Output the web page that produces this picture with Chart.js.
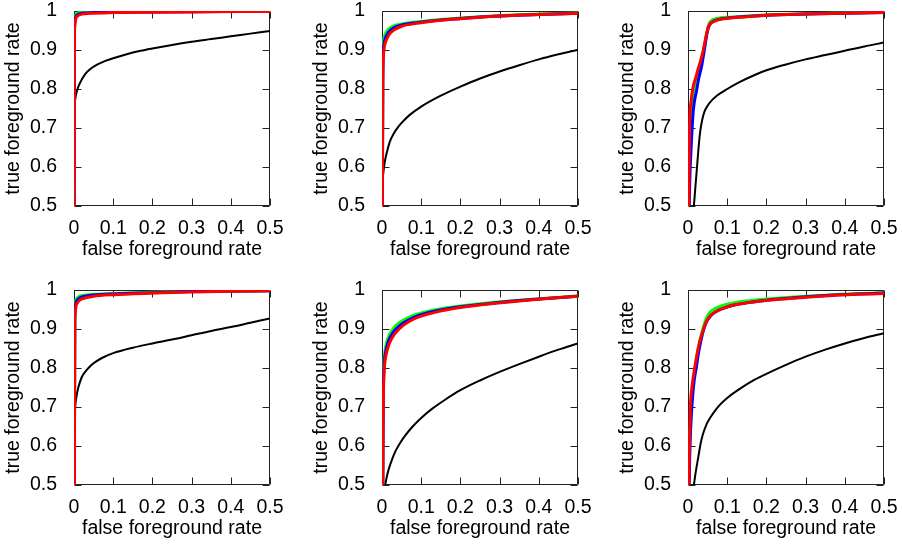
<!DOCTYPE html>
<html>
<head>
<meta charset="utf-8">
<script src="https://cdn.jsdelivr.net/npm/chart.js@4.4.0/dist/chart.umd.min.js"></script>
<style>
	html, body { margin: 0; padding: 0; background: #fff; }
	body { width: 902px; height: 545px; position: relative; overflow: hidden; }
	canvas { position: absolute; }
</style>
</head>
<body>
<canvas id="cA"></canvas>
<canvas id="cB"></canvas>
<canvas id="cC"></canvas>
<canvas id="cD"></canvas>
<canvas id="cE"></canvas>
<canvas id="cF"></canvas>
<script>
// axis ticks
var fprTicks = [0, 0.1, 0.2, 0.3, 0.4, 0.5];
var tprTicks = [0.5, 0.6, 0.7, 0.8, 0.9, 1];

// [false foreground rate, true foreground rate]
// top left
var baseA = [[0,0.5],[0.0005,0.73],[0.002,0.765],[0.004,0.78],[0.01,0.803],[0.017,0.819],[0.03,0.84],[0.04,0.85],[0.06,0.863],[0.08,0.872],[0.1,0.879],[0.13,0.888],[0.17,0.898],[0.2,0.904],[0.25,0.913],[0.3,0.921],[0.35,0.928],[0.4,0.935],[0.45,0.942],[0.5,0.949]];
var greenA = [[0.0005,0.5],[0.001,0.95],[0.002,0.98],[0.004,0.99],[0.008,0.994],[0.015,0.996],[0.03,0.998],[0.1,0.999],[0.5,1]];
var blueA = [[0.0005,0.5],[0.001,0.93],[0.002,0.97],[0.004,0.984],[0.008,0.99],[0.015,0.993],[0.03,0.995],[0.1,0.997],[0.5,0.999]];
var redA = [[0.0005,0.5],[0.001,0.9],[0.002,0.96],[0.004,0.978],[0.007,0.985],[0.012,0.989],[0.02,0.992],[0.04,0.994],[0.1,0.996],[0.2,0.997],[0.35,0.998],[0.5,0.999]];

// top middle
var baseB = [[0,0.5],[0.001,0.55],[0.004,0.59],[0.008,0.618],[0.013,0.64],[0.02,0.665],[0.03,0.686],[0.04,0.701],[0.05,0.713],[0.07,0.733],[0.1,0.755],[0.15,0.783],[0.2,0.806],[0.25,0.827],[0.3,0.845],[0.35,0.861],[0.4,0.876],[0.45,0.889],[0.5,0.901]];
var greenB = [[0.001,0.5],[0.002,0.85],[0.003,0.91],[0.005,0.93],[0.008,0.94],[0.012,0.948],[0.02,0.956],[0.03,0.962],[0.05,0.967],[0.08,0.971],[0.1,0.973],[0.15,0.978],[0.2,0.982],[0.3,0.988],[0.4,0.992],[0.5,0.995]];
var blueB = [[0.001,0.5],[0.002,0.82],[0.003,0.89],[0.005,0.915],[0.008,0.929],[0.012,0.938],[0.02,0.949],[0.03,0.957],[0.05,0.964],[0.08,0.969],[0.1,0.972],[0.15,0.977],[0.2,0.981],[0.3,0.987],[0.4,0.991],[0.5,0.994]];
var redB = [[0.001,0.5],[0.002,0.8],[0.003,0.87],[0.005,0.9],[0.008,0.917],[0.012,0.928],[0.02,0.942],[0.03,0.951],[0.05,0.961],[0.08,0.967],[0.1,0.97],[0.15,0.976],[0.2,0.98],[0.3,0.987],[0.4,0.991],[0.5,0.994]];

// top right
var baseC = [[0.015,0.5],[0.019,0.55],[0.023,0.6],[0.027,0.65],[0.031,0.69],[0.036,0.72],[0.042,0.742],[0.05,0.757],[0.06,0.77],[0.075,0.784],[0.1,0.8],[0.13,0.817],[0.17,0.836],[0.2,0.848],[0.25,0.863],[0.3,0.876],[0.35,0.887],[0.4,0.898],[0.45,0.909],[0.5,0.919]];
var greenC = [[0.002,0.5],[0.004,0.6],[0.007,0.7],[0.011,0.77],[0.016,0.805],[0.022,0.83],[0.028,0.853],[0.034,0.876],[0.04,0.9],[0.045,0.927],[0.049,0.948],[0.053,0.965],[0.058,0.974],[0.066,0.979],[0.08,0.982],[0.1,0.984],[0.15,0.987],[0.2,0.99],[0.3,0.993],[0.4,0.995],[0.5,0.997]];
var blueC = [[0.003,0.5],[0.005,0.58],[0.008,0.65],[0.0135,0.745],[0.022,0.797],[0.028,0.83],[0.035,0.86],[0.04,0.89],[0.044,0.915],[0.048,0.94],[0.052,0.957],[0.057,0.967],[0.065,0.974],[0.08,0.979],[0.1,0.982],[0.15,0.986],[0.2,0.989],[0.3,0.992],[0.4,0.994],[0.5,0.996]];
var redC = [[0.002,0.5],[0.003,0.6],[0.004,0.7],[0.008,0.77],[0.013,0.805],[0.02,0.83],[0.026,0.852],[0.033,0.875],[0.039,0.9],[0.044,0.925],[0.048,0.945],[0.052,0.96],[0.057,0.968],[0.065,0.973],[0.08,0.978],[0.1,0.981],[0.15,0.985],[0.2,0.989],[0.3,0.992],[0.4,0.994],[0.5,0.996]];

// bottom left
var baseD = [[0,0.5],[0.001,0.65],[0.003,0.7],[0.006,0.725],[0.011,0.75],[0.02,0.777],[0.03,0.792],[0.04,0.803],[0.05,0.812],[0.07,0.825],[0.1,0.838],[0.15,0.852],[0.2,0.863],[0.25,0.873],[0.3,0.884],[0.35,0.895],[0.4,0.905],[0.45,0.916],[0.5,0.927]];
var greenD = [[0.001,0.5],[0.002,0.94],[0.003,0.965],[0.005,0.975],[0.008,0.98],[0.012,0.983],[0.02,0.986],[0.05,0.989],[0.1,0.991],[0.2,0.994],[0.3,0.996],[0.5,0.998]];
var blueD = [[0.001,0.5],[0.002,0.92],[0.003,0.955],[0.005,0.968],[0.008,0.974],[0.012,0.978],[0.02,0.982],[0.05,0.987],[0.1,0.99],[0.2,0.993],[0.3,0.996],[0.5,0.998]];
var redD = [[0.001,0.5],[0.002,0.9],[0.003,0.94],[0.005,0.958],[0.008,0.966],[0.012,0.972],[0.02,0.977],[0.03,0.98],[0.05,0.984],[0.1,0.988],[0.2,0.992],[0.3,0.995],[0.4,0.997],[0.5,0.998]];

// bottom middle
var baseE = [[0.008,0.5],[0.012,0.52],[0.017,0.54],[0.025,0.564],[0.035,0.588],[0.045,0.606],[0.06,0.628],[0.08,0.652],[0.1,0.672],[0.13,0.697],[0.16,0.718],[0.2,0.743],[0.25,0.768],[0.3,0.79],[0.35,0.81],[0.4,0.829],[0.45,0.847],[0.5,0.863]];
var greenE = [[0.002,0.5],[0.003,0.72],[0.004,0.79],[0.006,0.83],[0.01,0.858],[0.015,0.876],[0.02,0.888],[0.03,0.903],[0.04,0.913],[0.055,0.923],[0.08,0.935],[0.1,0.941],[0.14,0.95],[0.2,0.959],[0.27,0.967],[0.35,0.974],[0.42,0.979],[0.5,0.985]];
var blueE = [[0.002,0.5],[0.003,0.7],[0.004,0.77],[0.006,0.815],[0.01,0.845],[0.015,0.864],[0.02,0.877],[0.03,0.893],[0.04,0.904],[0.055,0.916],[0.08,0.929],[0.1,0.937],[0.14,0.947],[0.2,0.957],[0.27,0.965],[0.35,0.973],[0.42,0.978],[0.5,0.984]];
var redE = [[0.002,0.5],[0.003,0.68],[0.004,0.75],[0.006,0.8],[0.01,0.832],[0.015,0.852],[0.02,0.866],[0.03,0.884],[0.04,0.896],[0.055,0.91],[0.08,0.925],[0.1,0.933],[0.14,0.944],[0.2,0.955],[0.27,0.964],[0.35,0.972],[0.42,0.978],[0.5,0.984]];

// bottom right
var baseF = [[0.015,0.5],[0.02,0.535],[0.026,0.57],[0.032,0.605],[0.038,0.63],[0.047,0.655],[0.055,0.67],[0.065,0.685],[0.08,0.704],[0.1,0.723],[0.13,0.745],[0.17,0.77],[0.2,0.785],[0.25,0.808],[0.3,0.829],[0.35,0.847],[0.4,0.863],[0.45,0.877],[0.5,0.889]];
var greenF = [[0.002,0.5],[0.005,0.62],[0.008,0.7],[0.013,0.76],[0.02,0.81],[0.026,0.85],[0.032,0.877],[0.039,0.905],[0.047,0.928],[0.057,0.944],[0.07,0.953],[0.09,0.961],[0.115,0.967],[0.15,0.972],[0.2,0.977],[0.27,0.982],[0.37,0.988],[0.5,0.993]];
var blueF = [[0.003,0.5],[0.005,0.6],[0.008,0.67],[0.012,0.73],[0.016,0.77],[0.021,0.8],[0.027,0.84],[0.033,0.87],[0.039,0.895],[0.047,0.918],[0.058,0.934],[0.072,0.945],[0.09,0.953],[0.115,0.961],[0.15,0.967],[0.2,0.974],[0.27,0.98],[0.37,0.987],[0.5,0.992]];
var redF = [[0.002,0.5],[0.004,0.62],[0.006,0.7],[0.01,0.75],[0.017,0.8],[0.024,0.84],[0.03,0.868],[0.038,0.895],[0.047,0.919],[0.058,0.935],[0.072,0.945],[0.09,0.953],[0.115,0.961],[0.15,0.967],[0.2,0.973],[0.27,0.979],[0.37,0.986],[0.5,0.991]];

// base, green, blue, red (red ends up on top)
var seriesColors = ['#000000', '#00ff00', '#0000ff', '#ff0000'];
var seriesWidths = [2, 3, 3, 3];

// plot box layout (px)
var plotW = 196, plotH = 195;
var padL = 74, padT = 11, padR = 18, padB = 60;

var panels = [
	{ id: 'cA', left: 74, top: 11, curves: [baseA, greenA, blueA, redA] },
	{ id: 'cB', left: 382, top: 11, curves: [baseB, greenB, blueB, redB] },
	{ id: 'cC', left: 688, top: 11, curves: [baseC, greenC, blueC, redC] },
	{ id: 'cD', left: 74, top: 290, curves: [baseD, greenD, blueD, redD] },
	{ id: 'cE', left: 382, top: 290, curves: [baseE, greenE, blueE, redE] },
	{ id: 'cF', left: 688, top: 290, curves: [baseF, greenF, blueF, redF] }
];

var axisFont = { family: "'Liberation Sans', Arial, sans-serif", size: 19.5 };

// gnuplot style box with inward ticks on all four sides
var frame = {
	id: 'frame',
	beforeDatasetsDraw: function(chart) {
		var ctx = chart.ctx, a = chart.chartArea;
		var xs = chart.scales.x, ys = chart.scales.y;
		var L = Math.round(a.left) + 0.5, R = Math.round(a.right) - 0.5;
		var T = Math.round(a.top) + 0.5, B = Math.round(a.bottom) - 0.5;
		var len = 7;
		ctx.save();
		ctx.strokeStyle = '#222';
		ctx.lineWidth = 1;
		ctx.beginPath();
		fprTicks.forEach(function(v) {
			var px = Math.round(xs.getPixelForValue(v)) + 0.5;
			ctx.moveTo(px, B); ctx.lineTo(px, B - len);
			ctx.moveTo(px, T); ctx.lineTo(px, T + len);
		});
		tprTicks.forEach(function(v) {
			var py = Math.round(ys.getPixelForValue(v)) + 0.5;
			ctx.moveTo(L, py); ctx.lineTo(L + len, py);
			ctx.moveTo(R, py); ctx.lineTo(R - len, py);
		});
		ctx.rect(L, T, R - L, B - T);
		ctx.stroke();
		ctx.restore();
	}
};

panels.forEach(function(p) {
	var canvas = document.getElementById(p.id);
	canvas.width = padL + plotW + padR;
	canvas.height = padT + plotH + padB;
	canvas.style.left = (p.left - padL) + 'px';
	canvas.style.top = (p.top - padT) + 'px';

	var datasets = p.curves.map(function(c, i) {
		return {
			data: c.map(function(pt) { return { x: pt[0], y: pt[1] }; }),
			borderColor: seriesColors[i],
			borderWidth: seriesWidths[i],
			order: p.curves.length - i,
			showLine: true,
			pointRadius: 0,
			cubicInterpolationMode: 'monotone',
			fill: false
		};
	});

	new Chart(canvas.getContext('2d'), {
		type: 'scatter',
		data: { datasets: datasets },
		options: {
			responsive: false,
			animation: false,
			devicePixelRatio: 1,
			layout: { autoPadding: false, padding: { left: 0, top: padT, right: padR, bottom: 0 } },
			plugins: { legend: { display: false }, tooltip: { enabled: false } },
			scales: {
				x: {
					type: 'linear', min: 0, max: 0.5,
					grid: { display: false }, border: { display: false },
					afterBuildTicks: function(s) { s.ticks = fprTicks.map(function(v) { return { value: v }; }); },
					afterFit: function(s) { s.height = padB; s.paddingLeft = 0; s.paddingRight = 0; },
					ticks: { font: axisFont, color: '#000', padding: 3, maxRotation: 0, autoSkip: false,
						callback: function(v) { return String(v); } },
					title: { display: true, text: 'false foreground rate', font: axisFont, color: '#000', padding: { top: 0, bottom: 5 } }
				},
				y: {
					type: 'linear', min: 0.5, max: 1,
					grid: { display: false }, border: { display: false },
					afterBuildTicks: function(s) { s.ticks = tprTicks.map(function(v) { return { value: v }; }); },
					afterFit: function(s) { s.width = padL; s.paddingTop = 0; s.paddingBottom = 0; },
					ticks: { font: axisFont, color: '#000', padding: 9, autoSkip: false,
						callback: function(v) { return String(v); } },
					title: { display: true, text: 'true foreground rate', font: axisFont, color: '#000', padding: { top: 2, bottom: 0 } }
				}
			}
		},
		plugins: [frame]
	});
});
</script>
</body>
</html>
